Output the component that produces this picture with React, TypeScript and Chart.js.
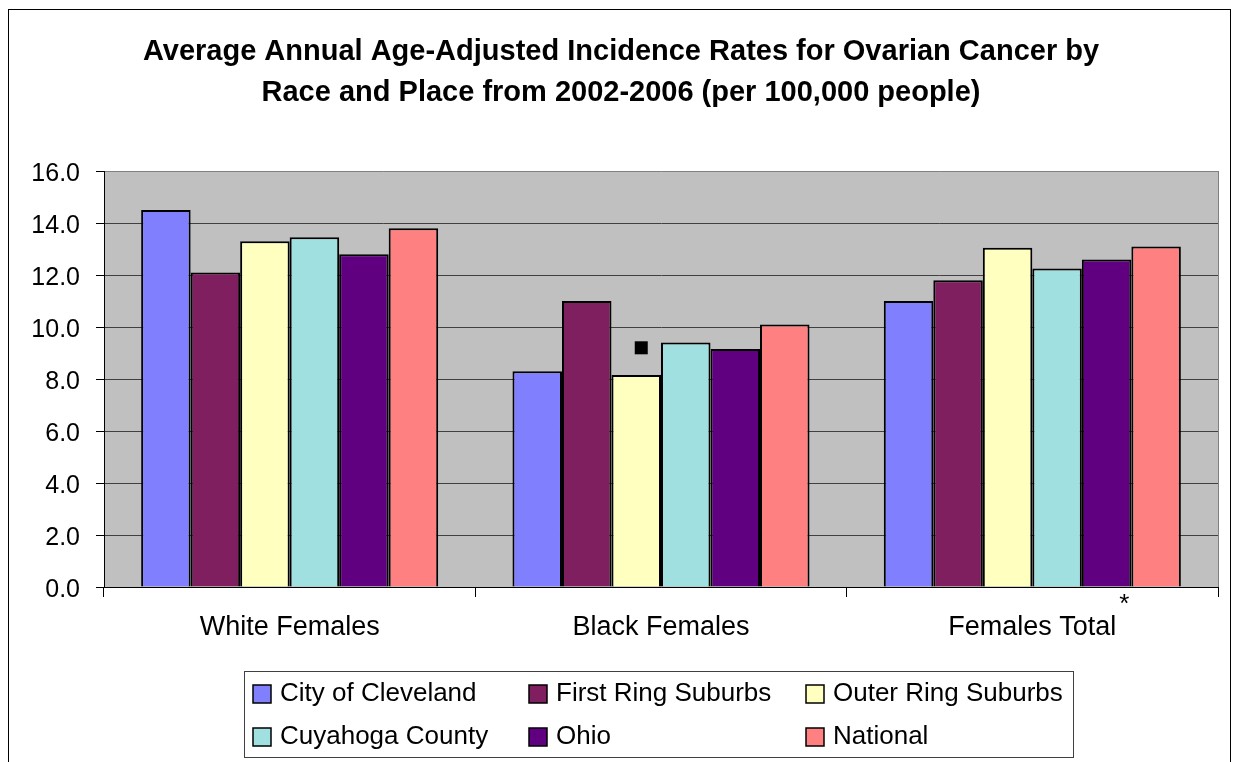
import React, { useEffect, useRef } from 'react';
import { Chart, registerables } from 'chart.js';

Chart.register(...registerables);

const categories = ['White Females', 'Black Females', 'Females Total'];
const seriesNames = [
  'City of Cleveland',
  'First Ring Suburbs',
  'Outer Ring Suburbs',
  'Cuyahoga County',
  'Ohio',
  'National',
];
const seriesColors = ['#8080FF', '#7F1F5F', '#FFFFC0', '#A0E0E0', '#600080', '#FF8080'];

const cleveland = [14.5, 8.3, 11.0];
const firstRing = [12.1, 11.0, 11.8];
const outerRing = [13.3, 8.15, 13.05];
const cuyahoga = [13.45, 9.4, 12.25];
const ohio = [12.8, 9.15, 12.6];
const national = [13.8, 10.1, 13.1];

const yMin = 0;
const yMax = 16;
const yStep = 2;

const titleLines = [
  'Average Annual Age-Adjusted Incidence Rates for Ovarian Cancer by',
  'Race and Place from 2002-2006 (per 100,000 people)',
];

// black square marker drawn above the Outer Ring Suburbs bar for Black Females
const markerSeries = 2;
const markerCategory = 1;
const markerValue = 9.2;
// footnote mark after the "Females Total" label
const footnoteCategory = 2;
const footnoteMark = '*';

const FONT = '"Liberation Sans", Arial, sans-serif';

export default function App() {
  const canvasRef = useRef<HTMLCanvasElement | null>(null);

  useEffect(() => {
    const canvas = canvasRef.current;
    if (!canvas) return;
    const seriesValues = [cleveland, firstRing, outerRing, cuyahoga, ohio, national];

    const decor = {
      id: 'decor',
      beforeDraw(chart: any) {
        const { ctx, chartArea } = chart;
        ctx.save();
        ctx.fillStyle = '#FFFFFF';
        ctx.fillRect(0, 0, chart.width, chart.height);
        ctx.strokeStyle = '#000000';
        ctx.lineWidth = 1;
        ctx.strokeRect(8.5, 9.5, 1222, 800);
        ctx.fillStyle = '#C0C0C0';
        ctx.fillRect(chartArea.left, chartArea.top, chartArea.right - chartArea.left, chartArea.bottom - chartArea.top);

        // title
        ctx.font = `bold 29px ${FONT}`;
        ctx.fillStyle = '#000000';
        ctx.textAlign = 'center';
        ctx.textBaseline = 'middle';
        titleLines.forEach((line, i) => {
          ctx.fillText(line, 621, 52 + i * 40.5);
        });
        ctx.restore();
      },
      afterDatasetsDraw(chart: any) {
        const { ctx, chartArea, scales } = chart;
        ctx.save();
        // right border of plot area
        ctx.strokeStyle = '#808080';
        ctx.lineWidth = 1;
        ctx.beginPath();
        ctx.moveTo(Math.round(chartArea.right) + 0.5, chartArea.top);
        ctx.lineTo(Math.round(chartArea.right) + 0.5, chartArea.bottom);
        ctx.stroke();

        // marker square
        const bar = chart.getDatasetMeta(markerSeries).data[markerCategory];
        const my = scales.y.getPixelForValue(markerValue);
        const mx = bar.x + 5;
        ctx.fillStyle = '#000000';
        ctx.fillRect(mx - 6.5, my - 6.5, 13, 13);

        // footnote asterisk
        ctx.font = `26px ${FONT}`;
        ctx.textAlign = 'center';
        ctx.textBaseline = 'alphabetic';
        ctx.fillStyle = '#000000';
        ctx.fillText(footnoteMark, scales.x.getPixelForValue(footnoteCategory) + 92, chartArea.bottom + 25);

        // legend
        const boxX = 244.5, boxY = 671.5, boxW = 829, boxH = 86;
        ctx.fillStyle = '#FFFFFF';
        ctx.fillRect(boxX, boxY, boxW, boxH);
        ctx.strokeStyle = '#404040';
        ctx.lineWidth = 1;
        ctx.strokeRect(boxX, boxY, boxW, boxH);
        const colX = [253, 529, 806];
        const rowY = [694, 737];
        ctx.font = `26px ${FONT}`;
        ctx.textAlign = 'left';
        ctx.textBaseline = 'middle';
        seriesNames.forEach((name, i) => {
          const cx = colX[i % 3];
          const cy = rowY[Math.floor(i / 3)];
          ctx.fillStyle = seriesColors[i];
          ctx.fillRect(cx, cy - 9, 18, 18);
          ctx.strokeStyle = '#000000';
          ctx.lineWidth = 1.5;
          ctx.strokeRect(cx, cy - 9, 18, 18);
          ctx.fillStyle = '#000000';
          ctx.fillText(name, cx + 27, cy);
        });
        ctx.restore();
      },
    };

    const chart = new Chart(canvas, {
      type: 'bar',
      data: {
        labels: categories,
        datasets: seriesNames.map((name, i) => ({
          label: name,
          data: seriesValues[i],
          backgroundColor: seriesColors[i],
          borderColor: '#000000',
          borderWidth: 2,
          categoryPercentage: 0.8,
          barPercentage: 1.0,
        })),
      },
      options: {
        responsive: false,
        animation: false,
        devicePixelRatio: 1,
        layout: { padding: { top: 171, left: 0, right: 18, bottom: 125 } },
        plugins: {
          legend: { display: false },
          tooltip: { enabled: false },
          title: { display: false },
        },
        scales: {
          x: {
            type: 'category',
            offset: true,
            grid: {
              offset: true,
              drawOnChartArea: false,
              drawTicks: true,
              tickLength: 10,
              color: '#000000',
            },
            border: { color: '#000000', width: 1 },
            ticks: {
              color: '#000000',
              font: { family: FONT, size: 27 },
              padding: 14,
              maxRotation: 0,
              autoSkip: false,
            },
            afterFit(scale: any) {
              scale.height = 50;
            },
          },
          y: {
            min: yMin,
            max: yMax,
            ticks: {
              stepSize: yStep,
              color: '#000000',
              font: { family: FONT, size: 25 },
              padding: 16,
              labelOffset: 3,
              callback: (v: any) => Number(v).toFixed(1),
            },
            grid: {
              color: (c: any) => (c.tick && c.tick.value === yMax ? '#808080' : '#404040'),
              tickColor: '#000000',
              tickLength: 8,
              lineWidth: 1,
            },
            border: { color: '#000000', width: 1 },
            afterFit(scale: any) {
              scale.width = 104;
            },
          },
        },
      },
      plugins: [decor],
    });

    return () => {
      chart.destroy();
    };
  }, []);

  return (
    <div style={{ position: 'absolute', left: 0, top: 0, width: 1236, height: 762, background: '#fff' }}>
      <canvas ref={canvasRef} width={1236} height={762} style={{ display: 'block', width: 1236, height: 762 }} />
    </div>
  );
}
